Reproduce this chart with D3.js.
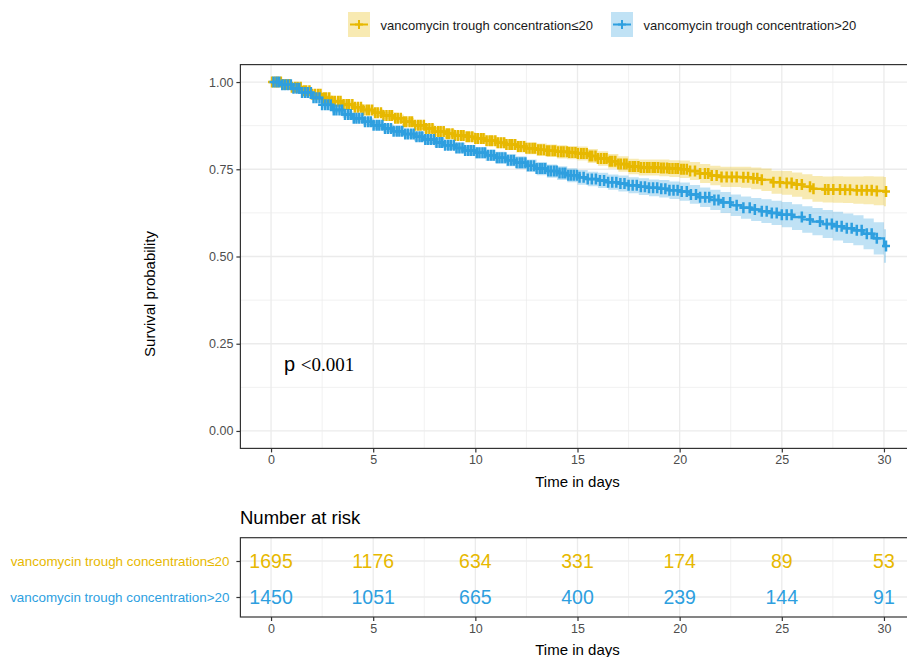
<!DOCTYPE html>
<html>
<head>
<meta charset="utf-8">
<script src="https://cdn.jsdelivr.net/npm/d3@7"></script>
<style>
  body { margin: 0; background: #fff; }
  svg { display: block; font-family: "Liberation Sans", Arial, sans-serif; }
</style>
</head>
<body>
<div id="chart"></div>
<script>
// groups and colours
var groups = ["vancomycin trough concentration\u226420", "vancomycin trough concentration>20"],
    colors = ["#E7B800", "#2E9FDF"];

// time points of the KM steps (days)
var times = [0,0.5,1,1.5,2,2.5,3,3.5,4,4.5,5,5.5,6,6.5,7,7.5,8,8.5,9,9.5,10,10.5,11,11.5,12,12.5,13,13.5,14,14.5,15,
  15.5,16,16.5,17,17.5,18,18.5,19,19.5,20,20.5,21,21.5,22,22.5,23,23.5,24,24.5,25,25.5,26,26.5,27,27.5,28,28.5,29,29.5,30,30.1];

// survival estimate and 95% CI, group <=20
var survLow = [1.000,0.993,0.985,0.975,0.965,0.955,0.945,0.936,0.928,0.920,0.912,0.904,0.896,0.886,0.876,0.867,0.858,0.852,0.847,0.843,0.838,0.832,0.826,0.821,0.815,0.810,0.806,0.803,0.800,0.798,0.795,
  0.788,0.781,0.773,0.765,0.758,0.755,0.755,0.754,0.752,0.750,0.745,0.738,0.732,0.728,0.728,0.727,0.724,0.720,0.713,0.711,0.706,0.700,0.694,0.692,0.692,0.691,0.690,0.690,0.688,0.686,0.686];
var loLow = [1.000,0.990,0.980,0.969,0.958,0.948,0.937,0.928,0.919,0.911,0.902,0.894,0.885,0.875,0.864,0.855,0.845,0.839,0.833,0.829,0.823,0.817,0.810,0.805,0.798,0.793,0.788,0.785,0.781,0.779,0.775,
  0.768,0.760,0.752,0.743,0.736,0.732,0.732,0.730,0.728,0.725,0.719,0.711,0.704,0.699,0.699,0.697,0.693,0.688,0.680,0.677,0.671,0.664,0.657,0.655,0.654,0.653,0.651,0.650,0.647,0.644,0.644];
var hiLow = [1.000,0.996,0.990,0.981,0.972,0.962,0.953,0.944,0.937,0.929,0.922,0.914,0.907,0.897,0.888,0.879,0.871,0.865,0.861,0.857,0.853,0.847,0.842,0.837,0.832,0.827,0.824,0.821,0.819,0.817,0.815,
  0.808,0.802,0.794,0.787,0.780,0.778,0.778,0.778,0.776,0.775,0.771,0.765,0.760,0.757,0.757,0.757,0.755,0.752,0.746,0.745,0.741,0.736,0.731,0.729,0.730,0.729,0.729,0.730,0.729,0.728,0.728];

// survival estimate and 95% CI, group >20
var survHigh = [1.000,0.992,0.982,0.970,0.955,0.935,0.920,0.907,0.896,0.886,0.876,0.867,0.859,0.851,0.843,0.835,0.827,0.819,0.811,0.804,0.797,0.790,0.783,0.776,0.769,0.760,0.752,0.745,0.739,0.733,0.727,
  0.722,0.718,0.713,0.709,0.704,0.700,0.697,0.694,0.690,0.686,0.678,0.670,0.662,0.655,0.647,0.640,0.635,0.630,0.625,0.620,0.613,0.606,0.600,0.593,0.587,0.581,0.575,0.565,0.552,0.530,0.530];
var loHigh = [1.000,0.989,0.977,0.964,0.948,0.927,0.911,0.898,0.886,0.876,0.865,0.856,0.847,0.839,0.830,0.822,0.813,0.805,0.796,0.789,0.781,0.774,0.766,0.759,0.751,0.742,0.733,0.726,0.719,0.713,0.706,
  0.701,0.696,0.691,0.686,0.681,0.676,0.673,0.669,0.665,0.660,0.651,0.642,0.633,0.625,0.616,0.608,0.602,0.596,0.590,0.584,0.576,0.568,0.561,0.553,0.546,0.539,0.532,0.521,0.506,0.482,0.482];
var hiHigh = [1.000,0.995,0.987,0.976,0.962,0.943,0.929,0.916,0.906,0.896,0.887,0.878,0.871,0.863,0.856,0.848,0.841,0.833,0.826,0.819,0.813,0.806,0.800,0.793,0.787,0.778,0.771,0.764,0.759,0.753,0.748,
  0.743,0.740,0.735,0.732,0.727,0.724,0.721,0.719,0.715,0.712,0.705,0.698,0.691,0.685,0.678,0.672,0.668,0.664,0.660,0.656,0.650,0.644,0.639,0.633,0.628,0.623,0.618,0.609,0.598,0.578,0.578];

// censoring times (days)
var censorLow = [0.05,0.2,0.32,0.48,0.6,0.75,0.9,1.02,1.18,1.3,1.45,1.6,1.72,1.88,2.0,2.15,2.3,2.42,2.58,2.7,2.85,3.0,3.12,3.28,3.4,3.55,3.7,3.82,3.98,4.1,
  4.25,4.4,4.52,4.68,4.8,4.95,5.1,5.22,5.38,5.5,5.65,5.8,5.92,6.08,6.2,6.35,6.5,6.62,6.78,6.9,7.05,7.2,7.32,7.48,7.6,7.75,7.9,8.02,8.18,8.3,
  8.45,8.6,8.72,8.88,9.0,9.15,9.3,9.42,9.58,9.7,9.85,10.0,10.12,10.28,10.4,10.55,10.7,10.82,10.98,11.1,11.25,11.4,11.52,11.68,11.8,11.95,12.1,12.22,12.38,12.5,
  12.65,12.8,12.92,13.08,13.2,13.35,13.5,13.62,13.78,13.9,14.05,14.2,14.32,14.48,14.6,14.75,14.9,15.02,15.18,15.3,15.45,15.6,15.72,15.88,16.0,16.15,16.3,16.42,16.58,16.7,
  16.85,17.0,17.12,17.28,17.4,17.55,17.7,17.82,17.98,18.1,18.25,18.4,18.52,18.68,18.8,18.95,19.1,19.22,19.38,19.5,19.65,19.8,19.92,20.08,20.2,20.35,
  20.51,20.75,21.0,21.24,21.4,21.57,21.81,22.05,22.3,22.55,22.79,23.12,23.35,23.61,23.8,24.02,24.59,24.91,25.24,25.48,25.73,25.98,26.38,26.55,
  27.12,27.28,27.52,27.85,28.1,28.34,28.67,28.91,29.16,29.4,29.65,30.1];
var censorHigh = [0.12,0.27,0.4,0.55,0.68,0.82,0.97,1.1,1.25,1.38,1.52,1.67,1.8,1.95,2.08,2.22,2.37,2.5,2.65,2.78,2.92,3.07,3.2,3.35,3.48,3.62,3.77,3.9,4.05,4.18,
  4.32,4.47,4.6,4.75,4.88,5.02,5.17,5.3,5.45,5.58,5.72,5.87,6.0,6.15,6.28,6.42,6.57,6.7,6.85,6.98,7.12,7.27,7.4,7.55,7.68,7.82,7.97,8.1,8.25,8.38,
  8.52,8.67,8.8,8.95,9.08,9.22,9.37,9.5,9.65,9.78,9.92,10.07,10.2,10.35,10.48,10.62,10.77,10.9,11.05,11.18,11.32,11.47,11.6,11.75,11.88,12.02,12.17,12.3,12.45,12.58,
  12.72,12.87,13.0,13.15,13.28,13.42,13.57,13.7,13.85,13.98,14.12,14.27,14.4,14.55,14.68,14.82,14.97,15.1,15.3,15.5,15.7,15.9,16.1,16.3,16.5,16.7,16.9,17.1,17.3,17.5,
  17.7,17.9,18.1,18.3,18.5,18.7,18.9,19.1,19.3,19.5,19.7,19.9,20.1,20.35,20.55,20.8,21.0,21.25,21.45,21.7,21.9,
  22.14,22.47,22.79,23.12,23.43,23.68,24.02,24.26,24.51,24.75,25.0,25.24,25.48,25.98,26.38,26.87,27.2,27.45,27.69,27.93,28.18,28.42,28.67,28.91,29.16,29.4,29.65,30.1];

// number at risk table
var riskTimes = [0,5,10,15,20,25,30];
var riskLow  = [1695,1176,634,331,174,89,53];
var riskHigh = [1450,1051,665,400,239,144,91];

var xTicks = [0,5,10,15,20,25,30],
    xMinor = [2.5,7.5,12.5,17.5,22.5,27.5],
    yTicks = [0,0.25,0.5,0.75,1],
    yMinor = [0.125,0.375,0.625,0.875];

var series = [
  { name: groups[0], color: colors[0], surv: survLow,  lo: loLow,  hi: hiLow,  censor: censorLow,  risk: riskLow },
  { name: groups[1], color: colors[1], surv: survHigh, lo: loHigh, hi: hiHigh, censor: censorHigh, risk: riskHigh }
];

var W = 907, H = 657;
var svg = d3.select("#chart").append("svg")
    .attr("width", W)
    .attr("height", H);

var panel = { left: 240.4, right: 914.6, top: 64.6, bottom: 448.4 };

var x = d3.scaleLinear().domain([-1.5, 31.5]).range([panel.left, panel.right]);
var y = d3.scaleLinear().domain([-0.05, 1.05]).range([panel.bottom, panel.top]);

var gridColor = "#EBEBEB", axisColor = "#333333", tickText = "#4D4D4D";

// ---- main panel grid
var grid = svg.append("g");
grid.selectAll(".vmin").data(xMinor).enter().append("line")
    .attr("x1", d => x(d)).attr("x2", d => x(d))
    .attr("y1", panel.top).attr("y2", panel.bottom)
    .attr("stroke", gridColor).attr("stroke-width", 0.7);
grid.selectAll(".hmin").data(yMinor).enter().append("line")
    .attr("x1", panel.left).attr("x2", panel.right)
    .attr("y1", d => y(d)).attr("y2", d => y(d))
    .attr("stroke", gridColor).attr("stroke-width", 0.7);
grid.selectAll(".vmaj").data(xTicks).enter().append("line")
    .attr("x1", d => x(d)).attr("x2", d => x(d))
    .attr("y1", panel.top).attr("y2", panel.bottom)
    .attr("stroke", gridColor).attr("stroke-width", 1.3);
grid.selectAll(".hmaj").data(yTicks).enter().append("line")
    .attr("x1", panel.left).attr("x2", panel.right)
    .attr("y1", d => y(d)).attr("y2", d => y(d))
    .attr("stroke", gridColor).attr("stroke-width", 1.3);

// ---- step curves
function stepValue(arr, t) {
  var i = d3.bisectRight(times, t) - 1;
  return arr[Math.max(0, i)];
}

var bandArea = d3.area()
    .curve(d3.curveStepAfter)
    .x(d => x(d.t)).y0(d => y(d.lo)).y1(d => y(d.hi));
var stepLine = d3.line()
    .curve(d3.curveStepAfter)
    .x(d => x(d.t)).y(d => y(d.s));

series.forEach(function(s) {
  var pts = times.map((t, i) => ({ t: t, s: s.surv[i], lo: s.lo[i], hi: s.hi[i] }));
  svg.append("path").datum(pts)
      .attr("d", bandArea)
      .attr("fill", s.color).attr("fill-opacity", 0.3);
});

series.forEach(function(s) {
  var pts = times.map((t, i) => ({ t: t, s: s.surv[i] }));
  svg.append("path").datum(pts)
      .attr("d", stepLine)
      .attr("fill", "none").attr("stroke", s.color).attr("stroke-width", 2.2);
  svg.append("g").selectAll("path")
      .data(s.censor)
      .enter().append("path")
        .attr("d", function(t) {
          var cx = x(t), cy = y(stepValue(s.surv, t));
          return "M" + (cx - 4) + "," + cy + "H" + (cx + 4) + "M" + cx + "," + (cy - 5.5) + "V" + (cy + 5.5);
        })
        .attr("stroke", s.color).attr("stroke-width", 2.5).attr("fill", "none");
});

// ---- panel border
svg.append("rect")
    .attr("x", panel.left).attr("y", panel.top)
    .attr("width", panel.right - panel.left).attr("height", panel.bottom - panel.top)
    .attr("fill", "none").attr("stroke", axisColor).attr("stroke-width", 1.2);

// ---- axes
var xAxis = svg.append("g")
    .attr("transform", "translate(0," + panel.bottom + ")")
    .call(d3.axisBottom(x).tickValues(xTicks).tickSize(4).tickPadding(3).tickFormat(d3.format("d")));
var yAxis = svg.append("g")
    .attr("transform", "translate(" + panel.left + ",0)")
    .call(d3.axisLeft(y).tickValues(yTicks).tickSize(4).tickPadding(3).tickFormat(d3.format(".2f")));
[xAxis, yAxis].forEach(function(a) {
  a.select(".domain").remove();
  a.selectAll(".tick line").attr("stroke", axisColor).attr("stroke-width", 1.2);
  a.selectAll(".tick text").attr("fill", tickText)
      .style("font-size", "12.5px").style("font-family", "Liberation Sans, Arial, sans-serif");
});

svg.append("text")
    .attr("x", (panel.left + panel.right) / 2).attr("y", 487)
    .attr("text-anchor", "middle")
    .style("font-size", "15px")
    .text("Time in days");

svg.append("text")
    .attr("transform", "translate(155,294) rotate(-90)")
    .attr("text-anchor", "middle")
    .style("font-size", "15px")
    .text("Survival probability");

// p value
var pTxt = svg.append("text").attr("x", 284).attr("y", 371);
pTxt.append("tspan").style("font-size", "20px").text("p ");
pTxt.append("tspan").style("font-family", "Liberation Serif, Times New Roman, serif")
    .style("font-size", "19px").text("<0.001");

// ---- legend
var legendX = [348, 611];
series.forEach(function(s, i) {
  var g = svg.append("g").attr("transform", "translate(" + legendX[i] + ",12)");
  g.append("rect").attr("width", 22).attr("height", 25)
      .attr("fill", s.color).attr("fill-opacity", 0.3);
  g.append("line").attr("x1", 2).attr("x2", 20).attr("y1", 12.5).attr("y2", 12.5)
      .attr("stroke", s.color).attr("stroke-width", 2);
  g.append("path").attr("d", "M11,8V17M7,12.5H15")
      .attr("stroke", s.color).attr("stroke-width", 2);
  g.append("text").attr("x", 32.5).attr("y", 17.5)
      .style("font-size", "13px").attr("fill", "#1a1a1a")
      .text(s.name);
});

// ---- risk table
var risk = { top: 537.7, bottom: 617 };
var ry = d3.scalePoint().domain(groups).range([561, 597]);

svg.append("text")
    .attr("x", 240).attr("y", 524)
    .style("font-size", "18.5px")
    .text("Number at risk");

var rgrid = svg.append("g");
rgrid.selectAll(".vmin").data(xMinor).enter().append("line")
    .attr("x1", d => x(d)).attr("x2", d => x(d))
    .attr("y1", risk.top).attr("y2", risk.bottom)
    .attr("stroke", gridColor).attr("stroke-width", 0.7);
rgrid.selectAll(".vmaj").data(xTicks).enter().append("line")
    .attr("x1", d => x(d)).attr("x2", d => x(d))
    .attr("y1", risk.top).attr("y2", risk.bottom)
    .attr("stroke", gridColor).attr("stroke-width", 1.3);
rgrid.selectAll(".hmaj").data(groups).enter().append("line")
    .attr("x1", panel.left).attr("x2", panel.right)
    .attr("y1", d => ry(d)).attr("y2", d => ry(d))
    .attr("stroke", gridColor).attr("stroke-width", 1.3);

series.forEach(function(s) {
  svg.append("g").selectAll("text")
      .data(riskTimes)
      .enter().append("text")
        .attr("x", d => x(d))
        .attr("y", ry(s.name) + 7)
        .attr("text-anchor", "middle")
        .attr("fill", s.color)
        .style("font-size", "19.5px")
        .text((d, i) => s.risk[i]);
});

svg.append("rect")
    .attr("x", panel.left).attr("y", risk.top)
    .attr("width", panel.right - panel.left).attr("height", risk.bottom - risk.top)
    .attr("fill", "none").attr("stroke", axisColor).attr("stroke-width", 1.2);

var rxAxis = svg.append("g")
    .attr("transform", "translate(0," + risk.bottom + ")")
    .call(d3.axisBottom(x).tickValues(xTicks).tickSize(4).tickPadding(3).tickFormat(d3.format("d")));
var ryAxis = svg.append("g")
    .attr("transform", "translate(" + panel.left + ",0)")
    .call(d3.axisLeft(ry).tickSize(4).tickPadding(7));
[rxAxis, ryAxis].forEach(function(a) {
  a.select(".domain").remove();
  a.selectAll(".tick line").attr("stroke", axisColor).attr("stroke-width", 1.2);
  a.selectAll(".tick text").attr("fill", tickText)
      .style("font-size", "12.5px").style("font-family", "Liberation Sans, Arial, sans-serif");
});
ryAxis.selectAll(".tick text")
    .attr("fill", (d, i) => colors[i])
    .style("font-size", "13.4px");

svg.append("text")
    .attr("x", (panel.left + panel.right) / 2).attr("y", 655)
    .attr("text-anchor", "middle")
    .style("font-size", "15px")
    .text("Time in days");
</script>
</body>
</html>
